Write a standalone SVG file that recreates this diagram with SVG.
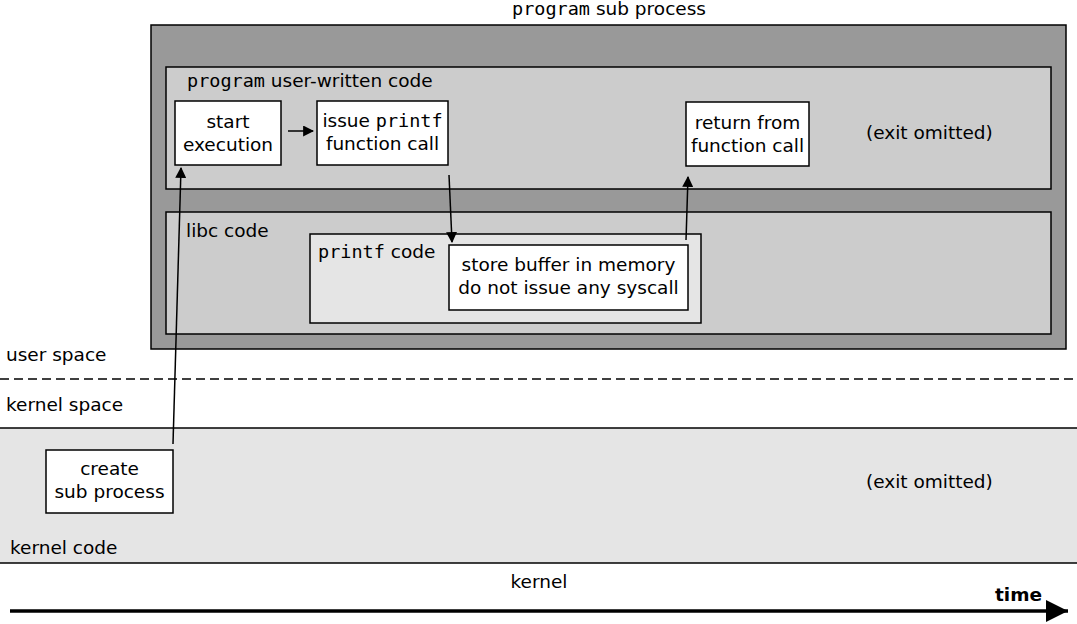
<svg xmlns="http://www.w3.org/2000/svg" width="1077" height="624" viewBox="0 0 1077 624">
<style>
text{font-family:"DejaVu Sans",sans-serif;font-size:18.5px;fill:#000}
.m{font-family:"DejaVu Sans Mono",monospace}
.c{text-anchor:middle}
.box{fill:#fff;stroke:#000;stroke-width:1.5}
.ln{stroke:#000;stroke-width:1.5;fill:none}
</style>
<defs>
<marker id="ah" viewBox="0 0 10 10" refX="9" refY="5" markerWidth="11" markerHeight="11" markerUnits="userSpaceOnUse" orient="auto"><path d="M0,0 L10,5 L0,10 z" fill="#000"/></marker>
<marker id="big" viewBox="0 0 10 10" refX="10" refY="5" markerWidth="22" markerHeight="22" markerUnits="userSpaceOnUse" orient="auto"><path d="M0,0 L10,5 L0,10 z" fill="#000"/></marker>
</defs>
<g id="regions">
<rect x="0" y="428" width="1077" height="135" fill="#e5e5e5"/>
<line x1="0" y1="428" x2="1077" y2="428" class="ln"/>
<line x1="0" y1="563" x2="1077" y2="563" class="ln"/>
<line x1="0" y1="379" x2="1077" y2="379" stroke="#000" stroke-width="1.5" stroke-dasharray="9,5"/>
<text x="6" y="361">user space</text>
<text x="6" y="411">kernel space</text>
<text x="10" y="554">kernel code</text>
<text x="539" y="588" class="c">kernel</text>
<text x="866" y="488">(exit omitted)</text>
</g>
<g id="subprocess">
<rect x="151" y="25" width="915" height="324" fill="#999" stroke="#000" stroke-width="1.5"/>
<text x="609" y="15" class="c"><tspan class="m">program</tspan> sub process</text>
</g>
<g id="usercode">
<rect x="166" y="67" width="885" height="122" fill="#ccc" stroke="#000" stroke-width="1.5"/>
<text x="187" y="87"><tspan class="m">program</tspan> user-written code</text>
<text x="866" y="139">(exit omitted)</text>
</g>
<g id="libc">
<rect x="166" y="212" width="885" height="122" fill="#ccc" stroke="#000" stroke-width="1.5"/>
<text x="186" y="237">libc code</text>
</g>
<g id="printfcode">
<rect x="310" y="234" width="391" height="89" fill="#e5e5e5" stroke="#000" stroke-width="1.5"/>
<text x="318" y="258"><tspan class="m">printf</tspan> code</text>
</g>
<g id="start">
<rect x="175" y="101" width="106" height="64" class="box"/>
<text x="228" y="128" class="c">start</text>
<text x="228" y="151" class="c">execution</text>
</g>
<g id="issue">
<rect x="317" y="101" width="131" height="64" class="box"/>
<text x="382.5" y="127" class="c">issue <tspan class="m">printf</tspan></text>
<text x="382.5" y="150" class="c">function call</text>
</g>
<g id="store">
<rect x="449" y="245" width="239" height="65" class="box"/>
<text x="568.5" y="271" class="c">store buffer in memory</text>
<text x="568.5" y="294" class="c">do not issue any syscall</text>
</g>
<g id="return">
<rect x="686" y="102" width="123" height="64" class="box"/>
<text x="747.5" y="129" class="c">return from</text>
<text x="747.5" y="152" class="c">function call</text>
</g>
<g id="create">
<rect x="46" y="450" width="127" height="63" class="box"/>
<text x="109.5" y="475" class="c">create</text>
<text x="109.5" y="498" class="c">sub process</text>
</g>
<g id="connectors">
<line x1="288" y1="131" x2="313" y2="131" class="ln" marker-end="url(#ah)"/>
<line x1="449" y1="175" x2="452" y2="242" class="ln" marker-end="url(#ah)"/>
<line x1="686" y1="240" x2="688" y2="177" class="ln" marker-end="url(#ah)"/>
<line x1="173" y1="444" x2="181" y2="168" class="ln" marker-end="url(#ah)"/>
<line x1="10" y1="611" x2="1068" y2="611" stroke="#000" stroke-width="3.5" marker-end="url(#big)"/>
<text x="1042" y="601" text-anchor="end" font-weight="bold">time</text>
</g>
</svg>
